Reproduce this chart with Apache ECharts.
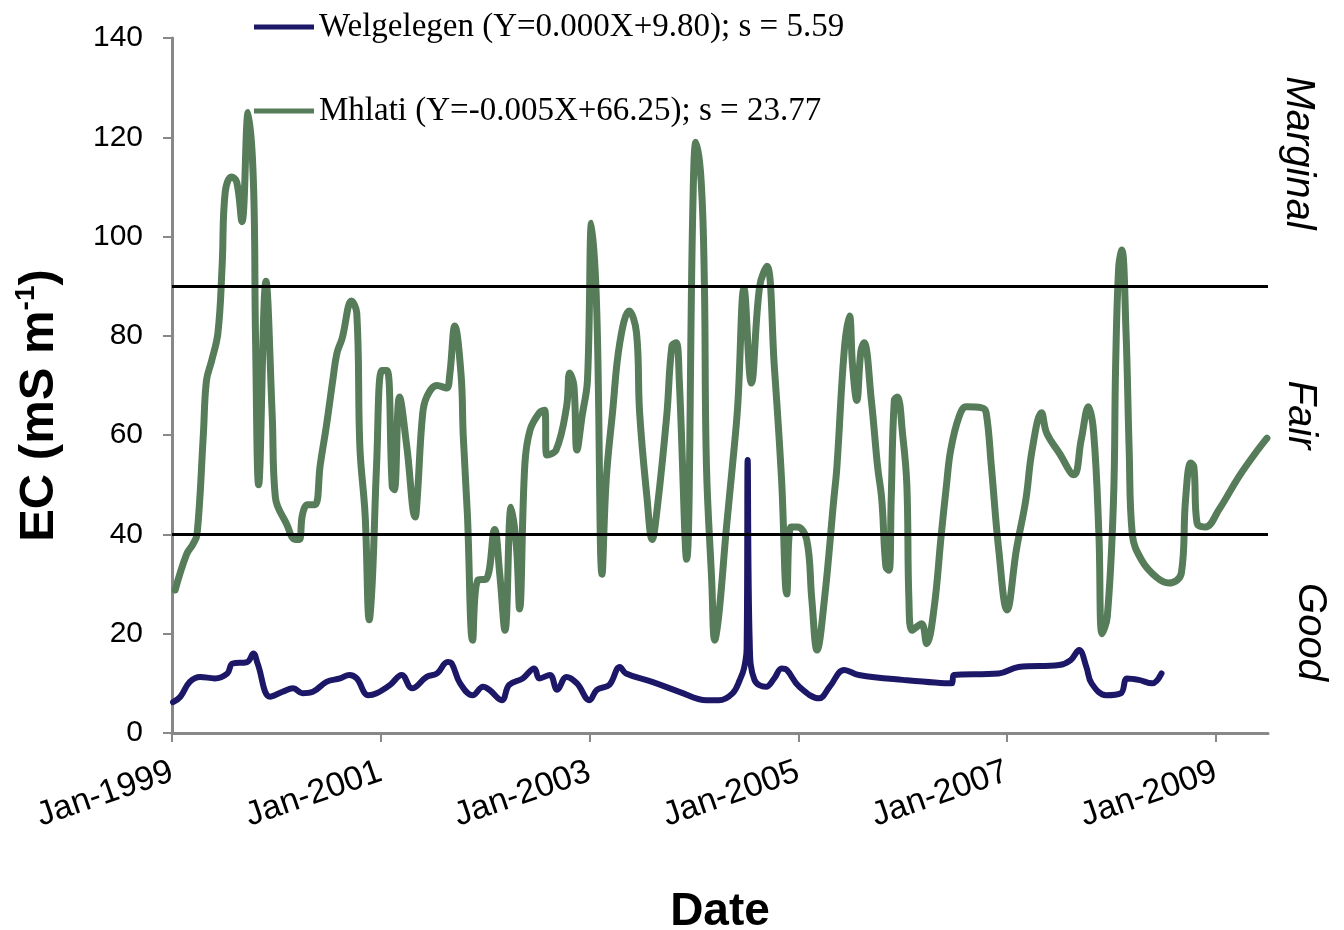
<!DOCTYPE html>
<html><head><meta charset="utf-8">
<script src="https://cdn.jsdelivr.net/npm/echarts@6/dist/echarts.min.js"></script>
<style>html,body{margin:0;padding:0;background:#fff}#c{width:1344px;height:930px}</style>
</head><body><div id="c"></div>
<script>
// ---- data (x = decimal year, y = EC in mS/m) ----
const seriesNames = ['Welgelegen (Y=0.000X+9.80); s = 5.59', 'Mhlati (Y=-0.005X+66.25); s = 23.77'];
const qualityClasses = ['Marginal', 'Fair', 'Good'];
const thresholds = [40, 90];
const yTicks = [0, 20, 40, 60, 80, 100, 120, 140];
const xTickYears = [1999, 2001, 2003, 2005, 2007, 2009];

const mhlatiX = [1999.03,1999.14,1999.20,1999.24,1999.30,1999.33,1999.38,1999.44,1999.48,1999.51,1999.57,1999.62,1999.67,1999.73,1999.78,1999.80,1999.83,1999.90,1999.96,1999.99,
2000.10,2000.18,2000.22,2000.25,2000.30,2000.37,2000.42,2000.48,2000.54,2000.58,2000.63,2000.72,2000.77,2000.80,2000.85,2000.89,2000.92,2000.96,
2001.01,2001.06,2001.11,2001.13,2001.18,2001.25,2001.33,2001.35,2001.40,2001.44,2001.54,2001.63,2001.66,2001.71,2001.77,2001.79,2001.83,2001.88,2001.93,
2002.01,2002.09,2002.14,2002.19,2002.25,2002.30,2002.33,2002.38,2002.43,2002.52,2002.57,2002.59,2002.68,2002.78,2002.81,2002.85,2002.88,2002.93,2002.98,
2003.02,2003.07,2003.12,2003.16,2003.22,2003.29,2003.38,2003.45,2003.48,2003.55,2003.60,2003.65,2003.74,2003.79,2003.83,2003.86,2003.93,2003.99,
2004.02,2004.07,2004.10,2004.12,2004.17,2004.20,2004.24,2004.31,2004.37,2004.42,2004.48,2004.55,2004.63,2004.70,2004.77,2004.84,2004.89,2004.93,2004.99,
2005.08,2005.13,2005.18,2005.25,2005.34,2005.37,2005.44,2005.49,2005.52,2005.56,2005.60,2005.63,2005.70,2005.76,2005.80,2005.84,2005.87,2005.89,2005.92,2005.95,
2006.00,2006.04,2006.06,2006.09,2006.18,2006.23,2006.30,2006.37,2006.42,2006.46,2006.54,2006.61,2006.76,2006.80,2006.85,2006.92,
2007.00,2007.09,2007.18,2007.24,2007.33,2007.38,2007.50,2007.64,2007.71,2007.78,2007.83,2007.88,2007.91,2007.96,
2008.02,2008.04,2008.07,2008.10,2008.14,2008.17,2008.20,2008.29,2008.43,2008.55,2008.67,2008.71,2008.76,2008.79,2008.82,2008.90,
2009.03,2009.22,2009.38,2009.49];
const mhlatiEC = [28.8,36,38,40,60,71,75,80.6,94,109,112,111,103,125,111,80,50,91,64,47.5,
42,39,39,44,46,46,54,62,71,76.5,79.5,87,84.6,57.6,44,22.8,31,54,
73,73,49.6,49,67.7,57.6,43.5,47.5,64,67.7,70,69.5,72,82,72,60,44,18.7,30.8,
31,41,32,20.7,45.5,37.5,25,54,61,64.5,65,56,57,65.7,72.5,70,57,64,71,
102.7,84.6,32,51,64.5,78.6,85,80.6,64.5,47.5,39,45.5,64,78,78.6,71,35,106,
119,111,91,54,31,18.7,24,41,54,66,89.6,70.5,90,94,74,51,28,41.5,41.5,
39,26.8,16.7,26.8,47,53.6,77,84,74,67,77,78.6,67,53.6,47,33.4,32.8,47,67,67.7,
60,50,26.8,20.7,22,18,25,40,50,57,63.7,65.7,65.5,64.5,53.6,37,
24.8,37,47,57,64.5,60.4,56.4,52,59,65.7,60.4,40,20,23.4,
47,73.7,94,97.3,80.6,57,40,34.8,31.4,30.2,32.2,47,54.4,53.6,42.3,41.5,
45,51.6,56.4,59.4];

const welgX = [1999.01,1999.08,1999.17,1999.27,1999.41,1999.53,1999.58,1999.72,1999.78,1999.82,1999.94,
2000.06,2000.16,2000.25,2000.35,2000.48,2000.61,2000.70,2000.77,2000.88,2000.96,
2001.09,2001.20,2001.30,2001.44,2001.54,2001.64,2001.68,2001.76,2001.88,2001.98,
2002.04,2002.16,2002.23,2002.36,2002.47,2002.52,2002.62,2002.69,2002.78,2002.88,
2003.00,2003.07,2003.19,2003.29,2003.35,2003.60,2003.86,
2004.12,2004.24,2004.37,2004.44,2004.48,2004.505,2004.515,2004.535,2004.58,2004.69,2004.77,2004.84,2004.89,
2005.01,2005.20,2005.30,2005.44,2005.58,2006.00,2006.47,2006.49,2006.92,
2007.11,2007.50,2007.61,2007.69,2007.76,2007.81,2007.95,
2008.09,2008.15,2008.26,2008.39,2008.48];
const welgEC = [6.2,7.3,10.3,11.3,11,12,14,14.3,16,14,7.3,
8.3,9,8,8.3,10.3,11,11.7,11,7.6,8,
9.7,11.7,9,11.3,12,14.3,14,10,7.6,9.3,
8.7,6.6,9.7,11,13,11,11.7,8.7,11.3,10,
6.6,8.7,9.7,13.3,12,10.3,8.3,
6.6,6.6,8,10.7,13,17,55,18,10.7,9.3,11,13,12.7,
9.3,7,9.3,12.7,11.7,10.7,10,11.7,12,
13.3,13.7,14.7,16.7,13.3,10,7.6,
8,11,10.7,10,12];

const zip = (xs, ys) => xs.map((x, i) => [x, ys[i]]);

const chart = echarts.init(document.getElementById('c'), null, {renderer: 'canvas'});
const sans = 'Liberation Sans, Arial, sans-serif';
const serif = 'Liberation Serif, Times New Roman, serif';
const legendText = {fontFamily: serif, fontSize: 33, color: '#000', lineHeight: 36};

chart.setOption({
  animation: false,
  backgroundColor: '#ffffff',
  grid: {left: 172, right: 76, top: 38, bottom: 197, outerBoundsMode: 'none'},
  legend: [
    {data: [seriesNames[0]], left: 254, top: 9, padding: 0, icon: 'rect', itemWidth: 60, itemHeight: 5, textStyle: legendText},
    {data: [seriesNames[1]], left: 254, top: 93, padding: 0, icon: 'rect', itemWidth: 60, itemHeight: 5, textStyle: legendText}
  ],
  xAxis: {
    type: 'value', min: xTickYears[0], max: 2009.5, interval: 2,
    name: 'Date', nameLocation: 'middle', nameGap: 156,
    nameTextStyle: {fontFamily: sans, fontSize: 46, fontWeight: 'bold', color: '#000'},
    axisLine: {show: true, onZero: false, lineStyle: {color: '#888', width: 3}},
    axisTick: {show: true, length: 9, lineStyle: {color: '#888', width: 2}},
    axisLabel: {formatter: v => 'Jan-' + v, rotate: 19, fontFamily: sans, fontSize: 34, color: '#000', margin: 38},
    splitLine: {show: false}
  },
  yAxis: {
    type: 'value', min: yTicks[0], max: yTicks[yTicks.length - 1], interval: 20,
    name: '{a|EC (mS m}{s|-1}{a|)}', nameLocation: 'middle', nameGap: 106, nameRotate: 90,
    nameTextStyle: {
      padding: [0, 40, 0, 0],
      rich: {
        a: {fontFamily: sans, fontSize: 49, fontWeight: 'bold', color: '#000', lineHeight: 54},
        s: {fontFamily: sans, fontSize: 28, fontWeight: 'bold', color: '#000', lineHeight: 32, verticalAlign: 'top'}
      }
    },
    axisLine: {show: true, lineStyle: {color: '#888', width: 3}},
    axisTick: {show: true, length: 9, lineStyle: {color: '#888', width: 2}},
    axisLabel: {fontFamily: sans, fontSize: 30, color: '#000', margin: 29},
    splitLine: {show: false}
  },
  graphic: [
    {type: 'text', x: 1298, y: 153, rotation: -Math.PI / 2,
     style: {text: qualityClasses[0], font: 'italic 40px ' + sans, fill: '#000', align: 'center', verticalAlign: 'middle'}},
    {type: 'text', x: 1300, y: 415, rotation: -Math.PI / 2,
     style: {text: qualityClasses[1], font: 'italic 40px ' + sans, fill: '#000', align: 'center', verticalAlign: 'middle'}},
    {type: 'text', x: 1310, y: 632, rotation: -Math.PI / 2,
     style: {text: qualityClasses[2], font: 'italic 40px ' + sans, fill: '#000', align: 'center', verticalAlign: 'middle'}}
  ],
  series: [
    {
      name: seriesNames[1], type: 'line', data: zip(mhlatiX, mhlatiEC),
      smooth: 0.4, showSymbol: false, symbol: 'none',
      itemStyle: {color: '#567c59'},
      lineStyle: {color: '#567c59', width: 7, cap: 'round', join: 'round'},
      z: 2,
      markLine: {
        silent: true, symbol: 'none', label: {show: false},
        lineStyle: {color: '#000', width: 3, type: 'solid'},
        data: thresholds.map(t => ({yAxis: t}))
      }
    },
    {
      name: seriesNames[0], type: 'line', data: zip(welgX, welgEC),
      smooth: 0.4, showSymbol: false, symbol: 'none',
      itemStyle: {color: '#1c1766'},
      lineStyle: {color: '#1c1766', width: 6, cap: 'round', join: 'round'},
      z: 3
    }
  ]
});
</script>
</body></html>
